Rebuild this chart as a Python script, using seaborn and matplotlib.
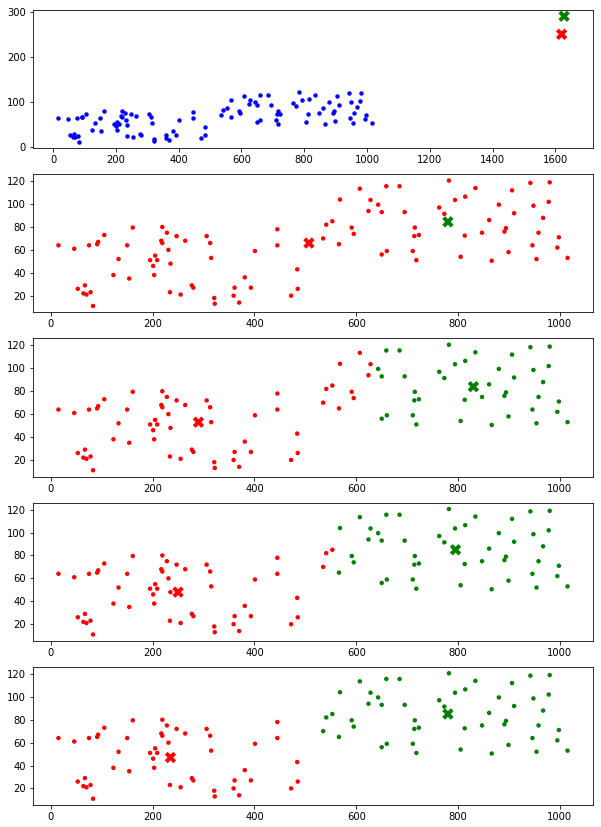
import numpy as np
import pandas as pd
import matplotlib
matplotlib.use("Agg")
import matplotlib.pyplot as plt
from matplotlib.ticker import MultipleLocator
import seaborn as sns

# data points
x = [15, 46, 53, 67, 64, 70, 78, 75, 83, 91, 93, 105, 123, 133, 150, 154, 161,
     195, 201, 203, 205, 209, 217, 219, 219, 228, 231, 235, 234, 247, 255, 264,
     277, 280, 306, 313, 315, 321, 322, 359, 361, 370, 381, 393, 401, 445, 445,
     472, 484, 485,
     535, 541, 553, 568, 566, 591, 595, 607, 624, 628, 643, 650, 659, 650, 660,
     685, 695, 715, 714, 723, 711, 718, 763, 773, 782, 794, 814, 813, 805, 834,
     847, 861, 866, 880, 894, 891, 899, 906, 910, 942, 948, 946, 954, 958, 967,
     978, 980, 998, 995, 1015]
y = [64, 61, 26, 29, 22, 21, 23, 64, 11, 65, 67, 73, 38, 52, 64, 35, 79.5,
     51, 46, 38, 55, 51, 68, 66, 80, 75, 60, 48, 23, 72, 21, 68,
     29, 27, 72, 66, 53, 18, 13, 20, 27, 14, 36, 27, 59, 78, 64,
     20, 43, 26,
     70, 82, 85, 104, 65, 79.5, 74, 113.5, 94, 103.6, 99.5, 93, 115.6, 56, 59,
     115.6, 93, 79.5, 72, 73, 59, 51, 97, 91.5, 120.6, 103.6, 106.5, 72.5, 54, 114,
     75, 86, 50.5, 99.5, 79, 76, 58, 112, 92, 118.5, 98.6, 64, 52, 75, 88,
     102, 119, 71, 62, 53]

# centroids shown in each panel: [red, green]
cent_x = [[1620, 1628], [507, 780], [290, 830], [250, 795], [235, 780]]
cent_y = [[250, 290], [66, 84.5], [53, 84], [48, 85], [47, 85]]

px = np.array(x, dtype=float)
py = np.array(y, dtype=float)

W, H, DPI = 601, 827, 72
fig, axes = plt.subplots(5, 1, figsize=(W / DPI, H / DPI), dpi=DPI)
fig.subplots_adjust(left=33 / W, right=593 / W, top=1 - 10 / H,
                    bottom=1 - 805 / H, hspace=0.19)

pal = {0: "red", 1: "green"}
for i, ax in enumerate(axes):
    df = pd.DataFrame({"x": px, "y": py})
    if i == 0:
        sns.scatterplot(data=df, x="x", y="y", color="blue", s=20,
                        linewidth=0, ax=ax)
    else:
        cx = np.array(cent_x[i - 1]); cy = np.array(cent_y[i - 1])
        d = (px[:, None] - cx[None, :]) ** 2 + (py[:, None] - cy[None, :]) ** 2
        df["c"] = d.argmin(axis=1)
        sns.scatterplot(data=df, x="x", y="y", hue="c", palette=pal,
                        hue_order=[0, 1], s=20, linewidth=0, legend=False, ax=ax)
    cdf = pd.DataFrame({"x": cent_x[i], "y": cent_y[i], "c": [0, 1]})
    sns.scatterplot(data=cdf, x="x", y="y", hue="c", palette=pal,
                    hue_order=[0, 1], marker="X", s=130, linewidth=0,
                    legend=False, ax=ax)
    ax.set_xlabel("")
    ax.set_ylabel("")
    if i == 0:
        ax.set_xlim(-64, 1720)
        ax.xaxis.set_major_locator(MultipleLocator(200))
    else:
        ax.yaxis.set_major_locator(MultipleLocator(20))

fig.savefig("out.png", dpi=DPI)
